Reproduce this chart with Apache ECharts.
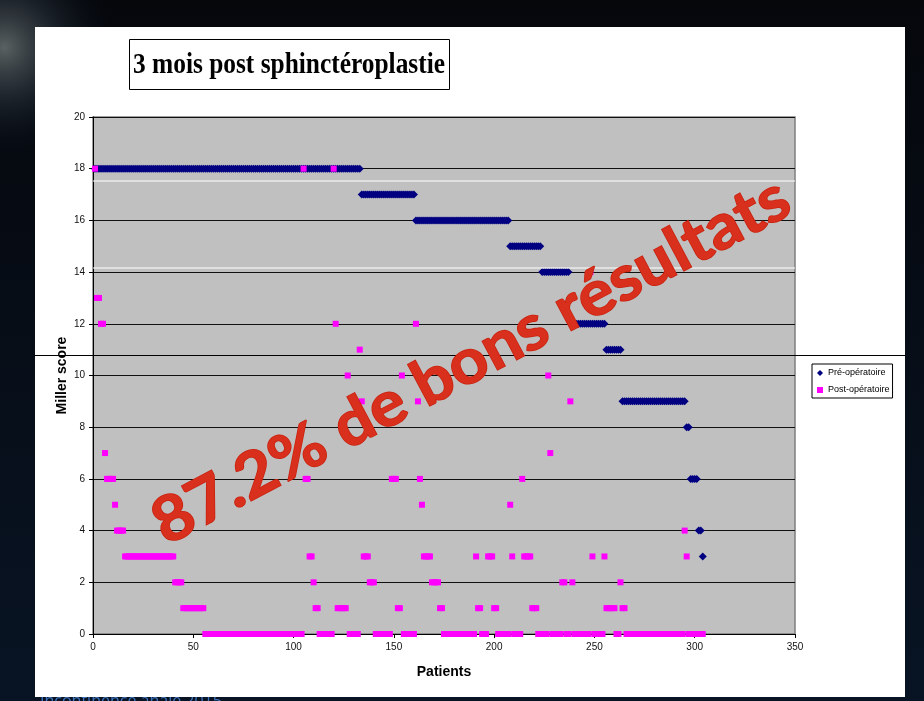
<!DOCTYPE html>
<html><head><meta charset="utf-8">
<script src="https://cdn.jsdelivr.net/npm/echarts@6/dist/echarts.min.js"></script>
<style>html,body{margin:0;padding:0;background:#000;}#c{width:924px;height:701px;}</style>
</head><body><div id="c"></div>
<script>
const titleText = '3 mois post sphinctéroplastie';
const overlayText = '87.2% de bons résultats';
const footerText = 'Incontinence anale 2015';
const seriesNames = ['Pré-opératoire', 'Post-opératoire'];
const xAxisName = 'Patients';
const yAxisName = 'Miller score';
const xTicks = [0, 50, 100, 150, 200, 250, 300, 350];
const yTicks = [0, 2, 4, 6, 8, 10, 12, 14, 16, 18, 20];

// Miller score per patient (patient 1 .. 304), pre-operative
const preOp = [
18,18,18,18,18,18,18,18,18,18,18,18,18,18,18,18,18,18,18,18,
18,18,18,18,18,18,18,18,18,18,18,18,18,18,18,18,18,18,18,18,
18,18,18,18,18,18,18,18,18,18,18,18,18,18,18,18,18,18,18,18,
18,18,18,18,18,18,18,18,18,18,18,18,18,18,18,18,18,18,18,18,
18,18,18,18,18,18,18,18,18,18,18,18,18,18,18,18,18,18,18,18,
18,18,18,18,18,18,18,18,18,18,18,18,18,18,18,18,18,18,18,18,
18,18,18,18,18,18,18,18,18,18,18,18,18,17,17,17,17,17,17,17,
17,17,17,17,17,17,17,17,17,17,17,17,17,17,17,17,17,17,17,17,
16,16,16,16,16,16,16,16,16,16,16,16,16,16,16,16,16,16,16,16,
16,16,16,16,16,16,16,16,16,16,16,16,16,16,16,16,16,16,16,16,
16,16,16,16,16,16,16,15,15,15,15,15,15,15,15,15,15,15,15,15,
15,15,15,14,14,14,14,14,14,14,14,14,14,14,14,14,14,13,12,12,
12,12,12,12,12,12,12,12,12,12,12,12,12,12,12,11,11,11,11,11,
11,11,11,9,9,9,9,9,9,9,9,9,9,9,9,9,9,9,9,9,
9,9,9,9,9,9,9,9,9,9,9,9,9,9,9,8,8,6,6,6,
6,4,4,3
];

// Miller score per patient (patient 1 .. 304), 3 months post-operative
const postOp = [
18,13,13,12,12,7,6,6,6,6,5,4,4,4,4,3,3,3,3,3,
3,3,3,3,3,3,3,3,3,3,3,3,3,3,3,3,3,3,3,3,
2,2,2,2,1,1,1,1,1,1,1,1,1,1,1,0,0,0,0,0,
0,0,0,0,0,0,0,0,0,0,0,0,0,0,0,0,0,0,0,0,
0,0,0,0,0,0,0,0,0,0,0,0,0,0,0,0,0,0,0,0,
0,0,0,0,18,6,6,3,3,2,1,1,0,0,0,0,0,0,0,18,
12,1,1,1,1,1,10,0,0,0,0,0,11,9,3,3,3,2,2,2,
0,0,0,0,0,0,0,0,6,6,6,1,1,10,0,0,0,0,0,0,
12,9,6,5,3,3,3,3,2,2,2,2,1,1,0,0,0,0,0,0,
0,0,0,0,0,0,0,0,0,0,3,1,1,0,0,0,3,3,3,1,
1,0,0,0,0,0,0,5,3,0,0,0,0,6,3,3,3,3,1,1,
1,0,0,0,0,0,10,7,0,0,0,0,0,2,2,0,0,9,2,0,
0,0,0,0,0,0,0,14,3,0,0,0,0,0,3,1,1,1,1,1,
0,0,2,1,1,0,0,0,0,0,0,0,0,0,0,0,0,0,0,0,
0,0,0,0,0,0,0,0,0,0,0,0,0,0,4,3,0,0,0,0,
0,0,0,0
];

const chart = echarts.init(document.getElementById('c'), null, {renderer: 'canvas'});

// fit overlay and title text widths
const mctx = document.createElement('canvas').getContext('2d');
const ovSize = 63;
const ovFont = 'bold ' + ovSize + 'px Lato';
mctx.font = ovFont;
const ovW = mctx.measureText(overlayText).width;
const ovScaleX = 712 / ovW;
const tFont = 'bold 30px "Liberation Serif"';
mctx.font = tFont;
const tW = mctx.measureText(titleText).width;
const tScaleX = 312 / tW;

const deg = Math.PI / 180;
const option = {
  animation: false,
  backgroundColor: '#000',
  grid: {left: 93, top: 117, right: 129, bottom: 67, show: true,
         backgroundColor: '#C0C0C0', borderColor: '#7f7f7f', borderWidth: 1.5,
         outerBoundsMode: 'none'},
  legend: {
    orient: 'vertical', left: 812, top: 364,
    padding: [4, 3, 3, 5], itemGap: 7, itemWidth: 6, itemHeight: 6, itemTextGap: 4,
    backgroundColor: '#fff', borderColor: '#000', borderWidth: 1, borderRadius: 0,
    textStyle: {fontFamily: 'Liberation Sans', fontSize: 9, color: '#000', lineHeight: 10},
    itemStyle: {borderWidth: 0},
    data: [
      {name: seriesNames[0], icon: 'diamond'},
      {name: seriesNames[1], icon: 'rect'}
    ]
  },
  xAxis: {
    type: 'value', min: xTicks[0], max: xTicks[xTicks.length - 1], interval: 50,
    name: xAxisName, nameLocation: 'middle', nameGap: 31, nameMoveOverlap: false,
    nameTextStyle: {fontFamily: 'Liberation Sans', fontWeight: 'bold', fontSize: 14, color: '#000'},
    axisLine: {show: true, onZero: false, lineStyle: {color: '#000', width: 1}},
    axisTick: {show: true, length: 4, lineStyle: {color: '#000'}},
    axisLabel: {fontFamily: 'Liberation Sans', fontSize: 10, color: '#111', margin: 8},
    splitLine: {show: false}
  },
  yAxis: {
    type: 'value', min: yTicks[0], max: yTicks[yTicks.length - 1], interval: 2,
    name: yAxisName, nameLocation: 'middle', nameGap: 24, nameRotate: 90, nameMoveOverlap: false,
    nameTextStyle: {fontFamily: 'Liberation Sans', fontWeight: 'bold', fontSize: 14, color: '#000'},
    axisLine: {show: true, lineStyle: {color: '#000', width: 1}},
    axisTick: {show: true, length: 4, lineStyle: {color: '#000'}},
    axisLabel: {fontFamily: 'Liberation Sans', fontSize: 10, color: '#111', margin: 8},
    splitLine: {show: true, lineStyle: {color: '#111', width: 1}}
  },
  series: [
    {name: seriesNames[0], type: 'scatter', symbol: 'diamond', symbolSize: 8,
     itemStyle: {color: '#000080', opacity: 1},
     data: preOp.map((v, i) => [i + 1, v])},
    {name: seriesNames[1], type: 'scatter', symbol: 'rect', symbolSize: 6,
     itemStyle: {color: '#FF00FF', opacity: 1},
     data: postOp.map((v, i) => [i + 1, v])}
  ],
  graphic: [
    {type: 'rect', z: -50, silent: true, shape: {x: 0, y: 0, width: 924, height: 701},
     style: {fill: new echarts.graphic.LinearGradient(0, 0, 0, 1, [
       {offset: 0, color: '#05070b'}, {offset: 1, color: '#081424'}])}},
    {type: 'rect', z: -49, silent: true, shape: {x: 0, y: 0, width: 220, height: 280},
     style: {fill: new echarts.graphic.RadialGradient(0.02, 0.17, 0.5, [
       {offset: 0, color: 'rgba(95,102,102,0.95)'}, {offset: 0.5, color: 'rgba(45,55,65,0.5)'},
       {offset: 1, color: 'rgba(10,20,35,0)'}])}},
    {type: 'text', z: -48, silent: true, x: 40, y: 701,
     style: {text: footerText, fill: '#3f72bd', font: '16px "Open Sans"', align: 'left', verticalAlign: 'middle'}},
    {type: 'rect', z: -40, silent: true, shape: {x: 35, y: 27, width: 870, height: 670},
     style: {fill: '#ffffff'}},
    {type: 'rect', z: 10, silent: true, shape: {x: 129.5, y: 39.5, width: 320, height: 50},
     style: {fill: '#fff', stroke: '#000', lineWidth: 1}},
    {type: 'text', z: 11, silent: true, x: 289, y: 65, scaleX: tScaleX,
     style: {text: titleText, fill: '#000', font: tFont, align: 'center', verticalAlign: 'middle'}},
    {type: 'line', z: 50, silent: true, shape: {x1: 35, y1: 355.5, x2: 905, y2: 355.5},
     style: {stroke: '#000', lineWidth: 1}},
    {type: 'line', z: 50, silent: true, shape: {x1: 93, y1: 181, x2: 795, y2: 181},
     style: {stroke: '#fff', lineWidth: 1.2}},
    {type: 'line', z: 50, silent: true, shape: {x1: 93, y1: 268, x2: 795, y2: 268},
     style: {stroke: '#fff', lineWidth: 1.2}},
    {type: 'text', z: 100, silent: true, x: 471, y: 361, rotation: 28 * deg, scaleX: ovScaleX,
     style: {text: overlayText, font: ovFont, align: 'center', verticalAlign: 'middle',
       fill: '#d9301e', stroke: '#c8220f', lineWidth: 1.5}}
  ]
};
chart.setOption(option);
</script>
</body></html>
